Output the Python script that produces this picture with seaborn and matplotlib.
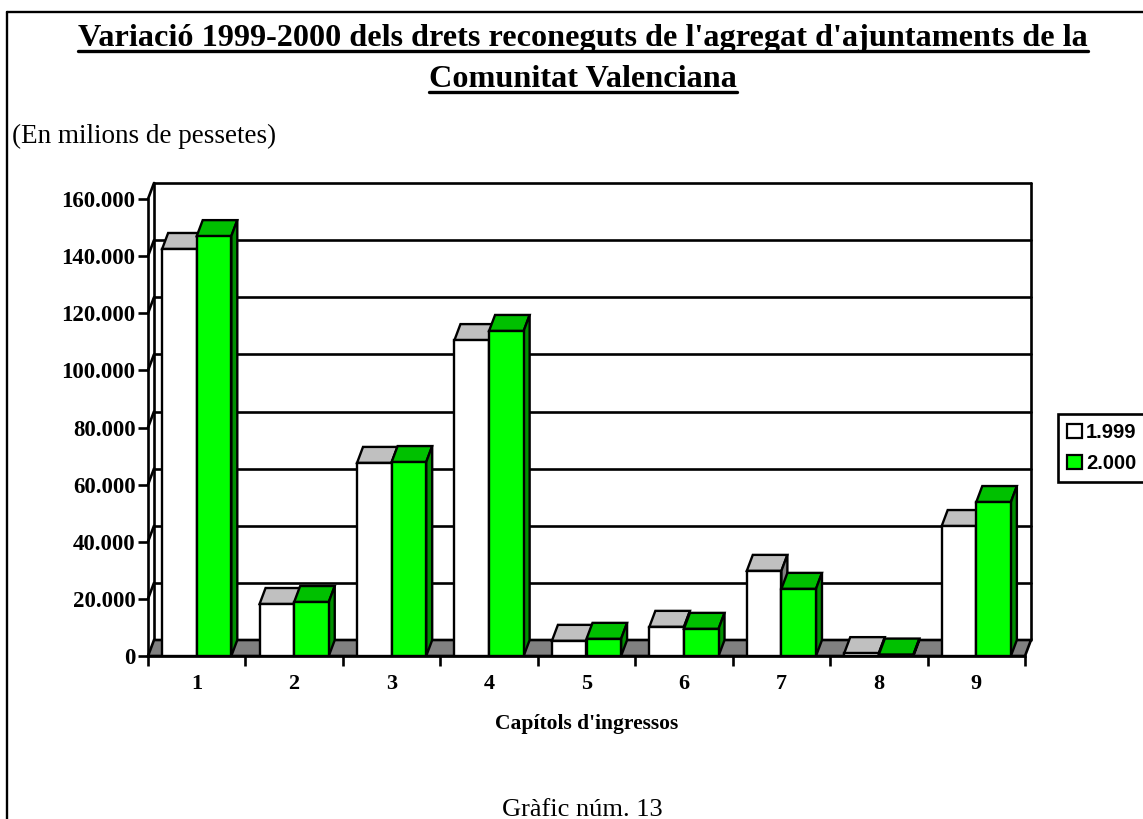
import numpy as np
import pandas as pd
import matplotlib
matplotlib.use("Agg")
import matplotlib.pyplot as plt
import seaborn as sns
from matplotlib.patches import Polygon, Patch
from matplotlib.lines import Line2D

# Dades (milions de pessetes)
CAPITOLS = ["1", "2", "3", "4", "5", "6", "7", "8", "9"]
ANYS = ["1.999", "2.000"]
VALORS_1999 = [142500, 18200, 67600, 110600, 5300, 10200, 29800, 1000, 45500]
VALORS_2000 = [147000, 18900, 67900, 113800, 6000, 9500, 23500, 500, 53900]
YTICKS = [0, 20000, 40000, 60000, 80000, 100000, 120000, 140000, 160000]

COLORS = {"1.999": "#FFFFFF", "2.000": "#00FF00"}
TOP_COLORS = {"1.999": "#C0C0C0", "2.000": "#00C000"}
SIDE_COLORS = {"1.999": "#808080", "2.000": "#009000"}

df = pd.DataFrame({
    "capitol": CAPITOLS * 2,
    "any": [ANYS[0]] * len(CAPITOLS) + [ANYS[1]] * len(CAPITOLS),
    "valor": VALORS_1999 + VALORS_2000,
})

sns.set_theme(style="white")
plt.rcParams["font.family"] = ["Liberation Serif", "DejaVu Serif"]
plt.rcParams["text.color"] = "black"
plt.rcParams["axes.labelcolor"] = "black"
plt.rcParams["xtick.color"] = "black"
plt.rcParams["ytick.color"] = "black"

W, H = 1143, 819
fig = plt.figure(figsize=(W / 100, H / 100), dpi=100)
ax = fig.add_axes([148 / W, (H - 656) / H, (1025 - 148) / W, (656 - 199) / H])
ax.set_facecolor("none")

sns.barplot(data=df, x="capitol", y="valor", hue="any", order=CAPITOLS,
            hue_order=ANYS, palette=COLORS, saturation=1, width=0.71,
            edgecolor="black", linewidth=1.7, legend=False, ax=ax)

ax.set_xlim(-0.5, 8.5)
ax.set_ylim(0, 160000)

# profunditat 3D en unitats de dades
dx = 6 / ((1025 - 148) / 9)
dy = 16 / ((656 - 199) / 160000)
x0, x1 = -0.5, 8.5
ymax = 160000
lw = 1.9

# terra
floor = Polygon([(x0, 0), (x1, 0), (x1 + dx, dy), (x0 + dx, dy)], closed=True,
                facecolor="#808080", edgecolor="black", lw=lw, zorder=1.5, clip_on=False)
ax.add_patch(floor)

# paret del fons i línies de quadrícula
for v in YTICKS[1:]:
    ax.plot([x0 + dx, x1 + dx], [v + dy, v + dy], color="black", lw=lw, zorder=1, clip_on=False)
    ax.plot([x0, x0 + dx], [v, v + dy], color="black", lw=lw, zorder=1, clip_on=False)
ax.plot([x0 + dx, x0 + dx], [dy, ymax + dy], color="black", lw=lw, zorder=1, clip_on=False)
ax.plot([x1 + dx, x1 + dx], [dy, ymax + dy], color="black", lw=lw, zorder=1, clip_on=False)

# cares superior i lateral de les barres
for k, (cont, yr) in enumerate(zip(ax.containers, ANYS)):
    for bar in cont:
        bx, bw, bh = bar.get_x(), bar.get_width(), bar.get_height()
        bar.set_zorder(3 + k)
        top = Polygon([(bx, bh), (bx + bw, bh), (bx + bw + dx, bh + dy), (bx + dx, bh + dy)],
                      closed=True, facecolor=TOP_COLORS[yr], edgecolor="black",
                      lw=1.7, zorder=2.9 + k, clip_on=False)
        side = Polygon([(bx + bw, 0), (bx + bw + dx, dy), (bx + bw + dx, bh + dy), (bx + bw, bh)],
                       closed=True, facecolor=SIDE_COLORS[yr], edgecolor="black",
                       lw=1.7, zorder=2.9 + k, clip_on=False)
        ax.add_patch(top)
        ax.add_patch(side)

# eixos
for s in ["top", "right"]:
    ax.spines[s].set_visible(False)
for s in ["left", "bottom"]:
    ax.spines[s].set_linewidth(lw)
    ax.spines[s].set_color("black")
    ax.spines[s].set_zorder(6)

ax.set_yticks(YTICKS)
ax.set_yticklabels([f"{v:,}".replace(",", ".") for v in YTICKS],
                   fontweight="bold", fontsize=16.5)
ax.tick_params(axis="y", direction="out", length=7, width=lw, color="black", pad=2, left=True)

ax.set_xticks(np.arange(len(CAPITOLS)))
ax.set_xticklabels(CAPITOLS, fontweight="bold", fontsize=16)
ax.set_xticks(np.arange(-0.5, len(CAPITOLS)), minor=True)
ax.tick_params(axis="x", which="major", length=0, pad=13)
ax.tick_params(axis="x", which="minor", direction="out", length=7, width=lw,
               color="black", bottom=True)
ax.set_xlabel("")
ax.set_ylabel("")

fig.text(587 / W, 1 - 724 / H, "Capítols d'ingressos", ha="center", va="center",
         fontsize=15.5, fontweight="bold")
fig.text(582 / W, 1 - 816 / H, "Gràfic núm. 13", ha="center", va="baseline", fontsize=19)
fig.text(12 / W, 1 - 143 / H, "(En milions de pessetes)", ha="left", va="baseline", fontsize=19.5)

# títol subratllat
renderer = fig.canvas.get_renderer()
for line, base in [("Variació 1999-2000 dels drets reconeguts de l'agregat d'ajuntaments de la", 46),
                   ("Comunitat Valenciana", 87)]:
    t = fig.text(583 / W, 1 - base / H, line, ha="center", va="baseline",
                 fontsize=23.2, fontweight="bold")
    bb = t.get_window_extent(renderer=renderer)
    yline = 1 - (base + 4.5) / H
    fig.add_artist(Line2D([bb.x0 / W, bb.x1 / W], [yline, yline], color="black", lw=2.4))

# llegenda
handles = [Patch(facecolor=COLORS[a], edgecolor="black", lw=1.6) for a in ANYS]
leg = fig.legend(handles, ANYS, loc="upper left", bbox_to_anchor=(1058 / W, 1 - 414 / H),
                 frameon=True, fancybox=False, edgecolor="black", framealpha=1,
                 prop={"family": "Liberation Sans", "weight": "bold", "size": 14.5},
                 handlelength=0.75, handleheight=0.75, handletextpad=0.2,
                 labelspacing=0.6, borderpad=0.45, borderaxespad=0)
leg.get_frame().set_linewidth(1.9)

# marc de la figura
fig.add_artist(Line2D([7 / W, 7 / W], [0, 1 - 12 / H], color="black", lw=1.7))
fig.add_artist(Line2D([7 / W, 1], [1 - 12 / H, 1 - 12 / H], color="black", lw=1.7))

fig.savefig("out.png", dpi=100)
